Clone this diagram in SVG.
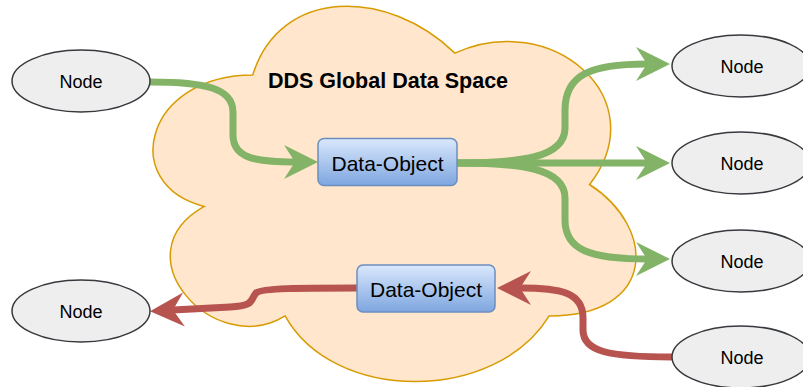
<svg xmlns="http://www.w3.org/2000/svg" width="803" height="387" viewBox="0 0 803 387">
  <style>
    .node ellipse { fill: #eeeeee; stroke: #36393d; stroke-width: 1.5; }
    .node text { font-family: "Liberation Sans", Arial, sans-serif; font-size: 18px; fill: #000; text-anchor: middle; }
    .obj rect { fill: url(#objFill); stroke: #6c8ebf; stroke-width: 1.5; }
    .obj text { font-family: "Liberation Sans", Arial, sans-serif; font-size: 21px; fill: #000; text-anchor: middle; }
    .title { font-family: "Liberation Sans", Arial, sans-serif; font-size: 21.5px; font-weight: bold; fill: #000; text-anchor: middle; }
    .edge { fill: none; stroke-width: 7; }
    .green { stroke: #82b366; }
    .red { stroke: #b85450; }
  </style>
  <defs>
    <linearGradient id="objFill" x1="0" y1="0" x2="0" y2="1">
      <stop offset="0" stop-color="#dae8fc"/>
      <stop offset="1" stop-color="#7ea6e0"/>
    </linearGradient>
    <marker id="arrowGreen" markerUnits="userSpaceOnUse" markerWidth="36" markerHeight="36" refX="11" refY="17" orient="auto" overflow="visible">
      <path d="M0,0 L34,17 L0,34 L11,17 Z" fill="#82b366"/>
    </marker>
    <marker id="arrowRed" markerUnits="userSpaceOnUse" markerWidth="36" markerHeight="36" refX="11" refY="17" orient="auto" overflow="visible">
      <path d="M0,0 L34,17 L0,34 L11,17 Z" fill="#b85450"/>
    </marker>
  </defs>

  <!-- global data space cloud -->
  <g id="cloud">
    <path d="M252.75,75 C144.95,75 118,184.5 204.24,206.4 C118,254.58 215.02,359.7 285.09,315.9 C333.6,403.5 495.3,403.5 549.2,315.9 C657,315.9 657,228.3 589.6,184.5 C657,96.9 549.2,9.3 454.9,53.1 C387.5,-12.6 279.7,-12.6 252.75,75 Z" fill="#ffe6cc" stroke="#d79b00" stroke-width="1.5"/>
    <text class="title" x="388" y="87.5">DDS Global Data Space</text>
  </g>

  <!-- connectors -->
  <g id="connectors">
    <path class="edge green" d="M150,82 C205,82 233,88 233,112 L233,135 C233,158 255,162 295,162" marker-end="url(#arrowGreen)"/>
    <path class="edge green" d="M457,163 C520,163 565,158 565,128 L565,110 C565,75 590,64 647,64" marker-end="url(#arrowGreen)"/>
    <path class="edge green" d="M457,163 L647,163" marker-end="url(#arrowGreen)"/>
    <path class="edge green" d="M457,163 C520,163 565,168 565,198 L565,220 C565,250 590,259 647,259" marker-end="url(#arrowGreen)"/>
    <path class="edge red" d="M357,288 C300,288 262,288 256,293 C250,300 255,306 230,307 L173,310" marker-end="url(#arrowRed)"/>
    <path class="edge red" d="M672,357 C610,357 583,352 583,330 L583,318 C583,292 560,288 520,288" marker-end="url(#arrowRed)"/>
  </g>

  <!-- data objects -->
  <g id="dataObject1" class="obj">
    <rect x="318" y="138.5" width="139" height="47" rx="6"/>
    <text x="387.5" y="170.5">Data-Object</text>
  </g>
  <g id="dataObject2" class="obj">
    <rect x="357" y="265" width="138" height="47" rx="6"/>
    <text x="426" y="297">Data-Object</text>
  </g>

  <!-- nodes -->
  <g id="nodeWriter" class="node">
    <ellipse cx="81" cy="81" rx="69" ry="31"/>
    <text x="81" y="87.5">Node</text>
  </g>
  <g id="nodeReaderTop" class="node">
    <ellipse cx="741" cy="66" rx="69" ry="31"/>
    <text x="742" y="72.5">Node</text>
  </g>
  <g id="nodeReaderMiddle" class="node">
    <ellipse cx="741" cy="163" rx="69" ry="31"/>
    <text x="742" y="169.5">Node</text>
  </g>
  <g id="nodeReaderBottom" class="node">
    <ellipse cx="741" cy="261" rx="69" ry="31"/>
    <text x="742" y="267.5">Node</text>
  </g>
  <g id="nodeReaderLeft" class="node">
    <ellipse cx="81" cy="311" rx="69" ry="31"/>
    <text x="81" y="317.5">Node</text>
  </g>
  <g id="nodeWriterRight" class="node">
    <ellipse cx="741" cy="357" rx="69" ry="31"/>
    <text x="742" y="363.5">Node</text>
  </g>
</svg>
